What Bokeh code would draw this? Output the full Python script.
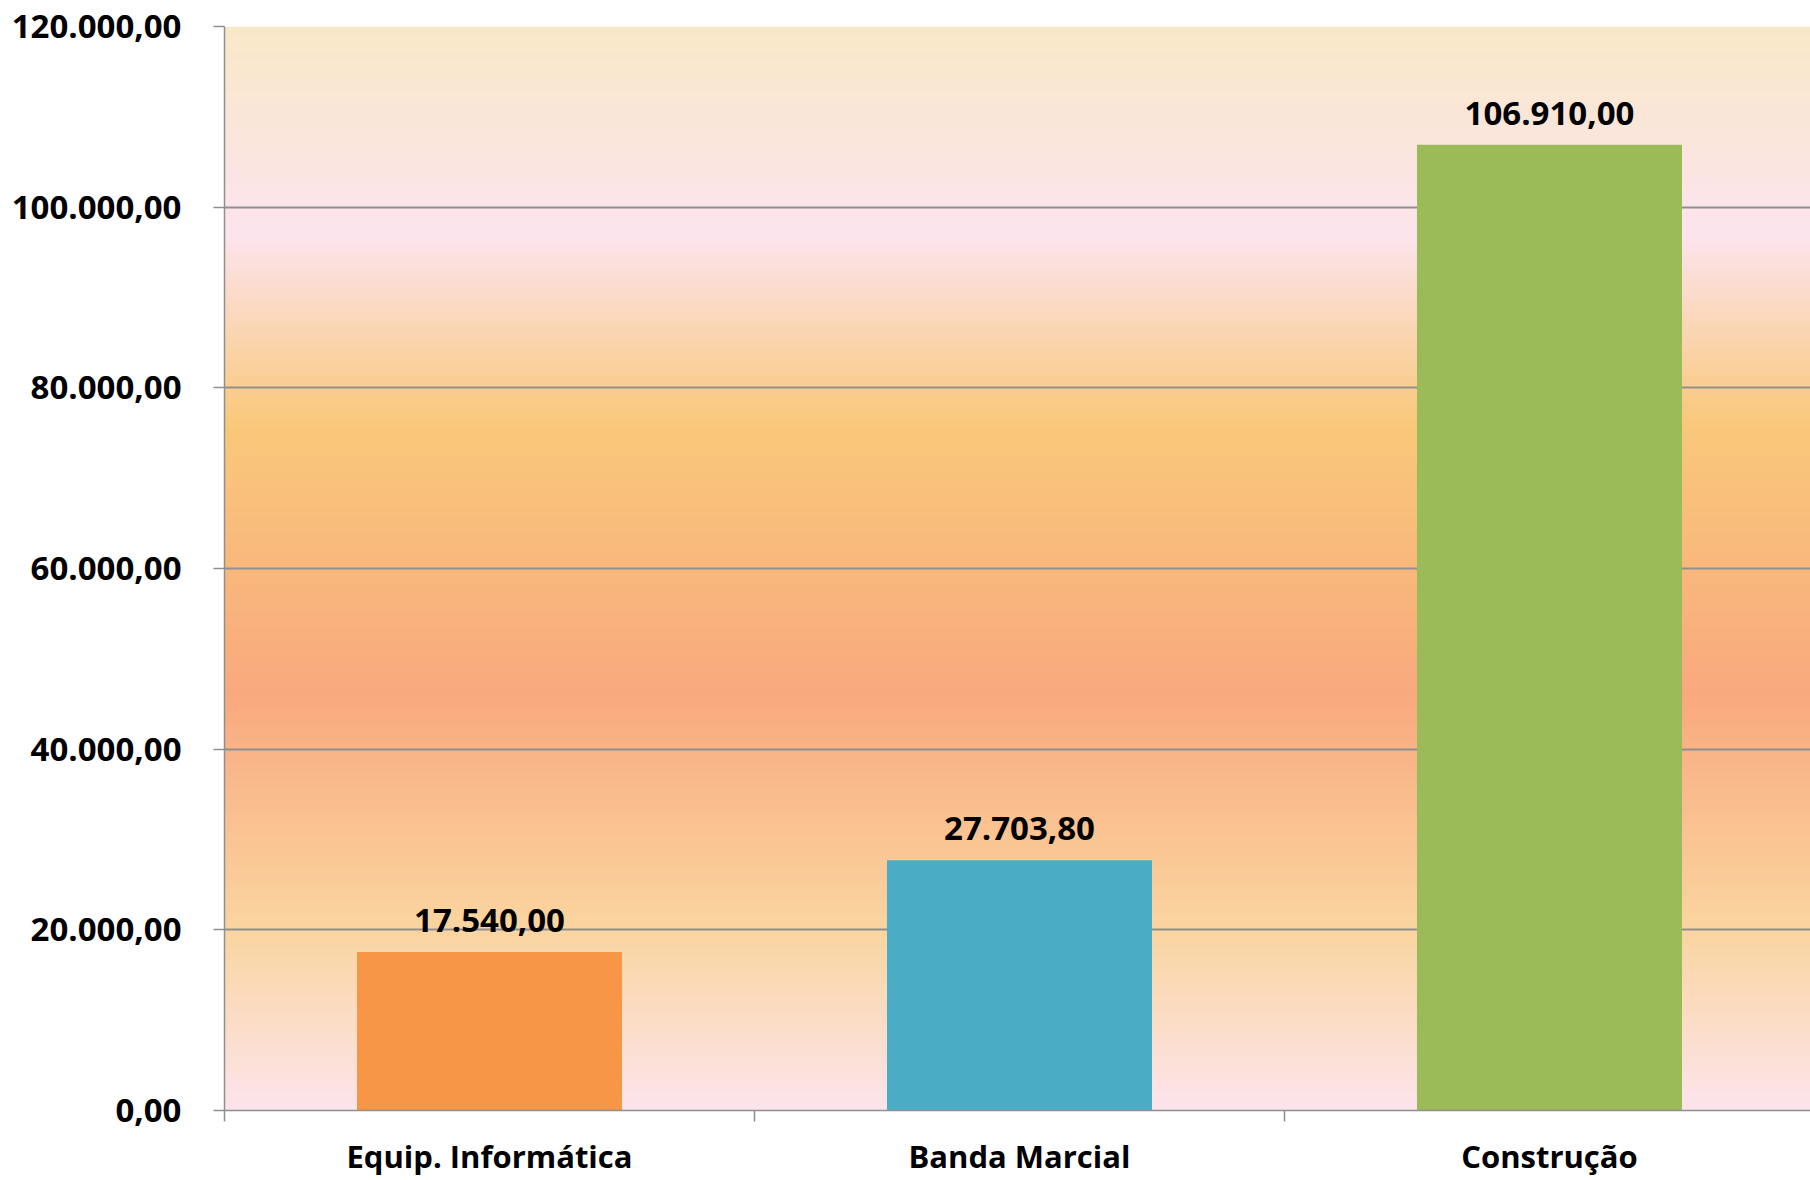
import numpy as np
from bokeh.plotting import figure
from bokeh.models import Range1d, FixedTicker, LabelSet, ColumnDataSource
from bokeh.core.properties import value
from bokeh.embed import file_html
from bokeh.resources import INLINE

# ---- data ----
categories = ["Equip. Informática", "Banda Marcial", "Construção"]
values = [17540.00, 27703.80, 106910.00]
bar_colors = ["#F79646", "#4BACC6", "#9BBB59"]
y_ticks = [0, 20000, 40000, 60000, 80000, 100000, 120000]

# background gradient stops (value -> colour)
bg_stop_values = [0, 20000, 46000, 76000, 97000, 120000]
bg_stop_colors = ["#FCE4EC", "#FAD5A0", "#F9A97E", "#F9C87A", "#FCE4EE", "#F9E8C7"]


def fmt(v):
    s = f"{v:,.2f}"
    return s.replace(",", "X").replace(".", ",").replace("X", ".")


FONT = "Open Sans"
GRAY = "#8F8F8F"

n_cat = len(categories)
x_pos = [i + 0.5 for i in range(n_cat)]
y_max = y_ticks[-1]

p = figure(
    width=1810, height=1180,
    x_range=Range1d(0, 2.9925), y_range=Range1d(0, y_max),
    output_backend="svg", toolbar_location=None,
    min_border_left=224, min_border_right=0, min_border_top=26, min_border_bottom=70,
)
p.outline_line_color = None
p.background_fill_color = "white"
p.border_fill_color = "white"

# ---- gradient background ----
def hex2rgb(h):
    h = h.lstrip("#")
    return [int(h[i:i + 2], 16) for i in (0, 2, 4)]

stop_rgb = np.array([hex2rgb(c) for c in bg_stop_colors], dtype=float)
n_bands = 480
edges = np.linspace(0, y_max, n_bands + 1)
mids = (edges[:-1] + edges[1:]) / 2
chans = [np.interp(mids, bg_stop_values, stop_rgb[:, k]) for k in range(3)]
band_colors = ["#%02x%02x%02x" % (int(round(r)), int(round(g)), int(round(b)))
               for r, g, b in zip(*chans)]
step = edges[1] - edges[0]
p.quad(left=0, right=n_cat, bottom=edges[:-1],
       top=np.minimum(edges[1:] + step * 0.6, y_max),
       fill_color=band_colors, line_color=None, level="image")

# ---- bars ----
src = ColumnDataSource(dict(
    x=x_pos, top=values, color=bar_colors,
    label=[fmt(v) for v in values],
))
p.vbar(x="x", top="top", width=0.5, fill_color="color", line_color=None, source=src)

labels = LabelSet(x="x", y="top", text="label", source=src,
                  text_align="center", text_baseline="alphabetic", y_offset=20,
                  text_font=value(FONT), text_font_style="bold",
                  text_font_size="33px", text_color="black")
p.add_layout(labels)

# ---- axes ----
xa = p.xaxis[0]
xa.ticker = FixedTicker(ticks=x_pos, minor_ticks=list(range(n_cat + 1)))
xa.major_label_overrides = {xp: c for xp, c in zip(x_pos, categories)}
xa.major_tick_line_color = None
xa.major_tick_out = 0
xa.major_tick_in = 0
xa.minor_tick_line_color = GRAY
xa.minor_tick_line_width = 1.5
xa.minor_tick_out = 11
xa.minor_tick_in = 0
xa.axis_line_color = GRAY
xa.axis_line_width = 1.5
xa.major_label_standoff = 13
xa.major_label_text_font = FONT
xa.major_label_text_font_style = "bold"
xa.major_label_text_font_size = "31px"
xa.major_label_text_color = "black"

ya = p.yaxis[0]
ya.ticker = FixedTicker(ticks=y_ticks)
ya.major_label_overrides = {t: fmt(t) for t in y_ticks}
ya.major_tick_line_color = GRAY
ya.major_tick_line_width = 1.5
ya.major_tick_out = 11
ya.major_tick_in = 0
ya.minor_tick_line_color = None
ya.axis_line_color = GRAY
ya.axis_line_width = 1.5
ya.major_label_standoff = 32
ya.major_label_text_font = FONT
ya.major_label_text_font_style = "bold"
ya.major_label_text_font_size = "33px"
ya.major_label_text_color = "black"

p.xgrid.grid_line_color = None
p.ygrid.ticker = FixedTicker(ticks=y_ticks)
p.ygrid.grid_line_color = GRAY
p.ygrid.grid_line_width = 2

open("out.html", "w").write(file_html(p, INLINE))
